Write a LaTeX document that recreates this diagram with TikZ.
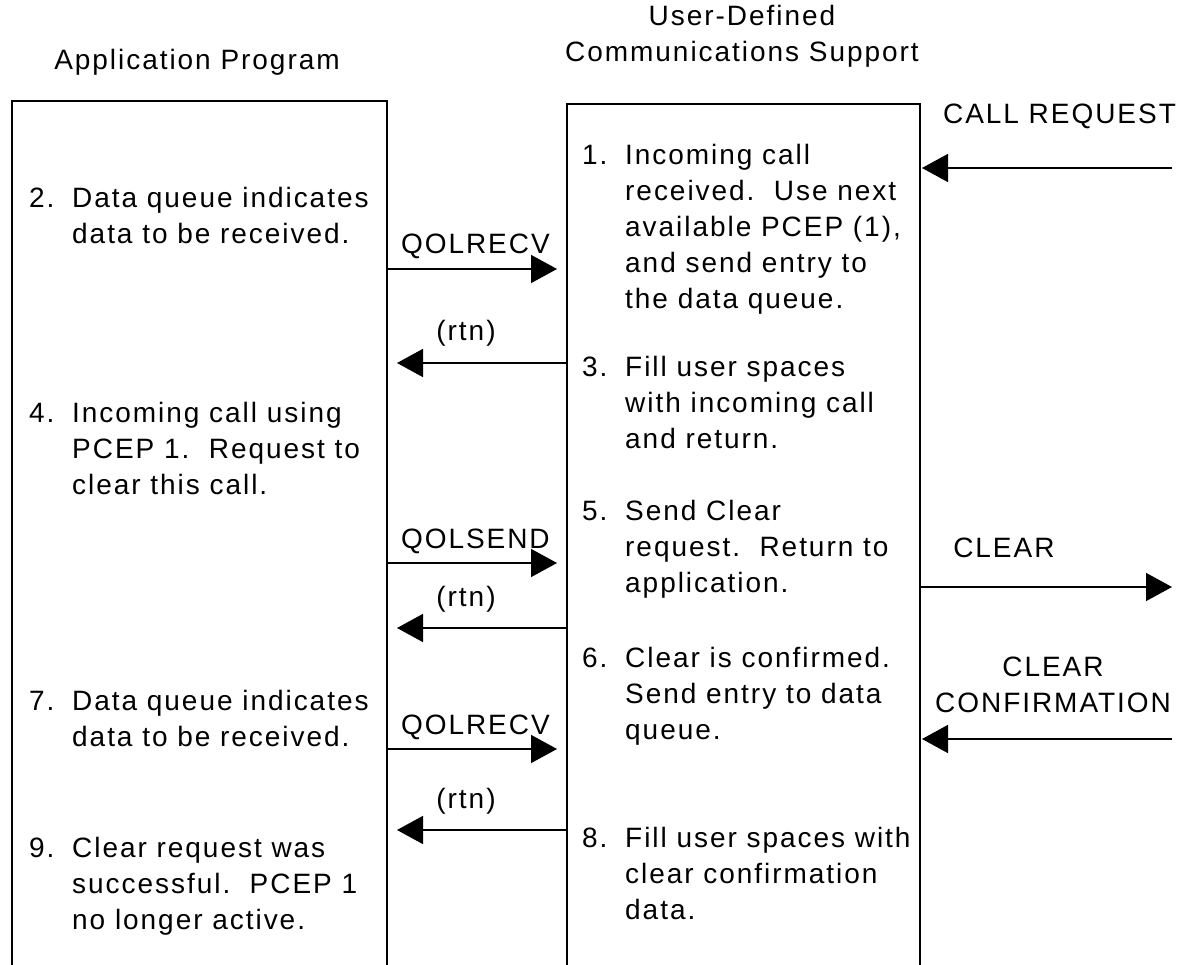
\documentclass[tikz,border=0pt]{standalone}
\usepackage{fontspec}
\setmainfont{Liberation Sans}[LetterSpace=7]
\usetikzlibrary{arrows.meta,positioning}

\newcommand{\stepitem}[2]{\makebox[43pt][l]{#1}\begin{tabular}[t]{@{}l@{}}#2\end{tabular}}

\begin{document}
\begin{tikzpicture}
        [x=1pt,y=-1pt,>={Triangle[length=26pt,width=28pt]},
         every node/.style={font=\fontsize{28}{36}\selectfont,inner sep=0pt},
         lifeline/.style={line width=1.6pt},
         call/.style={->,line width=1.6pt},
         stepnote/.style={anchor=base west},
         msglabel/.style={anchor=base}]

        \useasboundingbox (0,0) rectangle (1184,965);

        % headings
        \node (apptitle) at (197,62) {Application Program};
        \node[align=center] (udctitle) at (742,36) {User-Defined\\Communications Support};

        % the two columns, open at the bottom
        \draw[lifeline] (12,975) |- (387,101) -- (387,975);
        \draw[lifeline] (567,975) |- (920,104) -- (920,975);

        \coordinate (appR) at (387,0);
        \coordinate (appTip) at (397,0);
        \coordinate (udcL) at (567,0);
        \coordinate (udcTip) at (557,0);
        \coordinate (udcR) at (920,0);
        \coordinate (netR) at (1172,0);

        % application program side
        \node[stepnote] (s2) at (29,208) {\stepitem{2.}{Data queue indicates\\data to be received.}};
        \node[stepnote] (s4) at (29,423) {\stepitem{4.}{Incoming call using\\PCEP 1.\ \ Request to\\clear this call.}};
        \node[stepnote] (s7) at (29,710) {\stepitem{7.}{Data queue indicates\\data to be received.}};
        \node[stepnote] (s9) at (29,857) {\stepitem{9.}{Clear request was\\successful.\ \ PCEP 1\\no longer active.}};

        % user-defined communications support side
        \node[stepnote] (s1) at (582,165) {\stepitem{1.}{Incoming call\\received.\ \ Use next\\available PCEP (1),\\and send entry to\\the data queue.}};
        \node[stepnote] (s3) at (582,377) {\stepitem{3.}{Fill user spaces\\with incoming call\\and return.}};
        \node[stepnote] (s5) at (582,520) {\stepitem{5.}{Send Clear\\request.\ \ Return to\\application.}};
        \node[stepnote] (s6) at (582,667) {\stepitem{6.}{Clear is confirmed.\\Send entry to data\\queue.}};
        \node[stepnote] (s8) at (582,847) {\stepitem{8.}{Fill user spaces with\\clear confirmation\\data.}};

        % API calls and returns
        \foreach \y/\api in {269/QOLRECV,563/QOLSEND,749/QOLRECV}
            \draw[call] (appR |- 0,\y) -- (udcTip |- 0,\y)
                node[msglabel,pos=0.52,yshift=15pt] {\api};
        \foreach \y in {363,628,830}
            \draw[call] (udcL |- 0,\y) -- (appTip |- 0,\y)
                node[msglabel,pos=0.594,yshift=22pt] {(rtn)};

        % network side
        \draw[call] (netR |- 0,168) -- ([xshift=2pt]udcR |- 0,168)
            node[msglabel,pos=0.45,yshift=44pt] {CALL REQUEST};
        \draw[call] (udcR |- 0,587) -- (netR |- 0,587)
            node[msglabel,pos=0.333,yshift=30pt] {CLEAR};
        \draw[call] (netR |- 0,739) -- ([xshift=2pt]udcR |- 0,739)
            node[msglabel,pos=0.476,yshift=27pt] {\begin{tabular}[b]{@{}c@{}}CLEAR\\CONFIRMATION\end{tabular}};

    \end{tikzpicture}
\end{document}
